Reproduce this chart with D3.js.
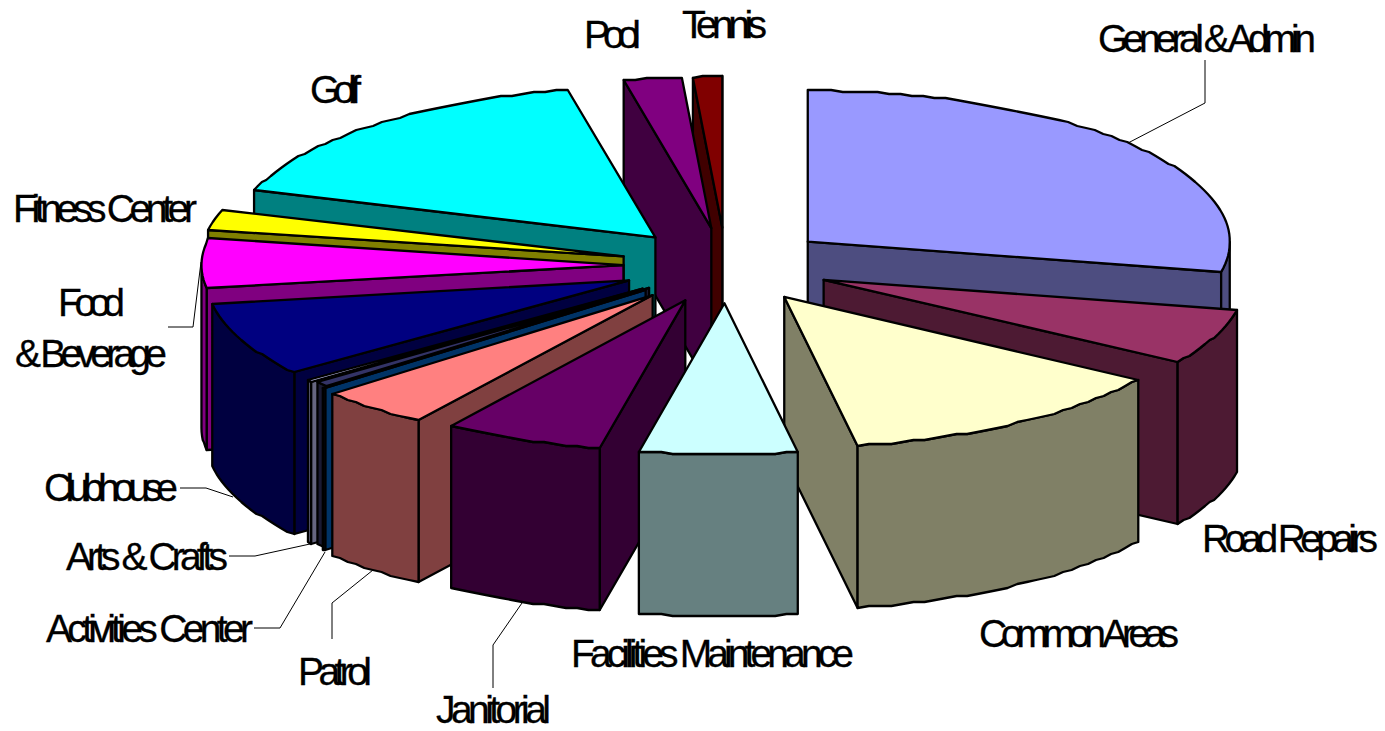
<!DOCTYPE html>
<html><head><meta charset="utf-8">
<script src="https://cdnjs.cloudflare.com/ajax/libs/d3/7.8.5/d3.min.js"></script>
<style>html,body{margin:0;padding:0;background:#fff;overflow:hidden}svg{display:block}
text{font-family:"Liberation Sans",Arial,sans-serif;font-size:39px;fill:#000;stroke:#000;stroke-width:.3px}</style>
</head><body><svg id="c" width="1385" height="731"></svg>
<script>
// Data (share of budget, %), clockwise from 12 o'clock; one unlabelled sliver sits between Activities and Arts
const categories = ["General & Admin","Road Repairs","Common Areas","Facilities Maintenance","Janitorial","Patrol","Activities Center","","Arts & Crafts","Clubhouse","Food & Beverage","Fitness Center","Golf","Pool","Tennis"];
const shares = [28.22,5.94,13.06,6.03,6.11,4.36,0.14,0.53,0.19,7.92,5.28,2.22,16.67,2.22,1.11];
const topColors = ["#9999FF","#993366","#FFFFCC","#CCFFFF","#660066","#FF8080","#0066CC","#333366","#CCCCFF","#000080","#FF00FF","#FFFF00","#00FFFF","#800080","#800000"];
// Back-to-front paint order (indices into categories)
const paintOrder = [14,13,12,11,10,9,8,7,6,5,4,0,1,2,3];
// Per-slice pull-out from the pie centre (fraction of radius)
const explodeBy = [0.25,0.25,0.25,0.25,0.25,0.262,0.25,0.235,0.25,0.25,0.243,0.25,0.25,0.25,0.25];
// Label layout: [text, centre x, baseline y, width]
const labelLines = [
  ["General & Admin",1207,52,218],["Road Repairs",1290,552,176],["Common Areas",1079,647,200],
  ["Facilities Maintenance",712.5,667,283],["Janitorial",493.5,723,115],["Patrol",335,685,74],
  ["Activities Center",149.5,642,207],["Arts & Crafts",147,570,162],["Clubhouse",111,501,134],
  ["Food",91.5,316,67],["& Beverage",91,367,152],["Fitness Center",105,222,184],
  ["Golf",335.5,103,51],["Pool",612.5,48,57],["Tennis",724.5,38,85]];
const leaders = [
  [[1205,60],[1205,103],[1128,143]],
  [[168,327],[193,327],[201,262]],
  [[180,488],[206,488],[233,497]],
  [[229,556],[255,556],[310,544]],
  [[254,628],[280,628],[325,552]],
  [[332,639],[332,603],[373,570]],
  [[493,688],[493,645],[522,603]]];

// Layout
const cx=726, cy=265.5, rx=422, ry=151, depth=162;
const rad=Math.PI/180;
const svg=d3.select("#c");
const scaleX=d3.scaleLinear().domain([-1,1]).range([-rx,rx]);
const scaleY=d3.scaleLinear().domain([-1,1]).range([ry,-ry]);
const arcs=d3.pie().sort(null).startAngle(0).endAngle(2*Math.PI)(shares);
const slices=arcs.map((a,i)=>{
  const mid=(a.startAngle+a.endAngle)/2;
  return {i,a0:a.startAngle,a1:a.endAngle,
    ox:cx+explodeBy[i]*scaleX(Math.sin(mid)),
    oy:cy+explodeBy[i]*scaleY(Math.cos(mid)),
    top:topColors[i]};
});
const halve=c=>{const r=d3.rgb(c);return d3.rgb(r.r/2,r.g/2,r.b/2).toString();};
const line=d3.line();
// rim point; y snapped to a fine grid for the rippled rim of the original export
const rim=(s,t)=>[s.ox+scaleX(Math.sin(t)),Math.round((s.oy+scaleY(Math.cos(t)))/2)*2];
const rimPts=(s,a,b)=>{
  const n=Math.max(1,Math.ceil((b-a)/(1.6*rad)));
  return d3.range(n+1).map(k=>rim(s,a+(b-a)*k/n));
};
const down=p=>[p[0],p[1]+depth];
const groups=svg.selectAll("g.slice").data(paintOrder.map(i=>slices[i])).join("g").attr("class","slice")
  .attr("stroke","#000").attr("stroke-width",2.3).attr("stroke-linejoin","round");
groups.each(function(s){
  const g=d3.select(this), wall=halve(s.top), O=[s.ox,s.oy];
  const add=(pts,fill)=>g.append("path").attr("d",line(pts)+"Z").attr("fill",fill);
  // radial walls facing the viewer
  if(Math.sin(s.a1)>0){const P=rim(s,s.a1);add([O,P,down(P),down(O)],wall);}
  if(Math.sin(s.a0)<0){const P=rim(s,s.a0);add([O,P,down(P),down(O)],wall);}
  // outer rim wall (front half only)
  const f0=Math.max(s.a0,Math.PI/2), f1=Math.min(s.a1,1.5*Math.PI);
  if(f1>f0){
    const r=rimPts(s,f0,f1);
    add(r.concat(r.map(down).reverse()),wall);
  }
  // top face
  add([O].concat(rimPts(s,s.a0,s.a1)),s.top);
});
svg.selectAll("path.leader").data(leaders).join("path").attr("class","leader")
  .attr("d",d=>line(d)).attr("fill","none").attr("stroke","#000").attr("stroke-width",1);
svg.selectAll("text").data(labelLines).join("text")
  .attr("x",d=>d[1]).attr("y",d=>d[2]).attr("text-anchor","middle")
  .attr("textLength",d=>d[3]).attr("lengthAdjust","spacing").text(d=>d[0]);
</script></body></html>
